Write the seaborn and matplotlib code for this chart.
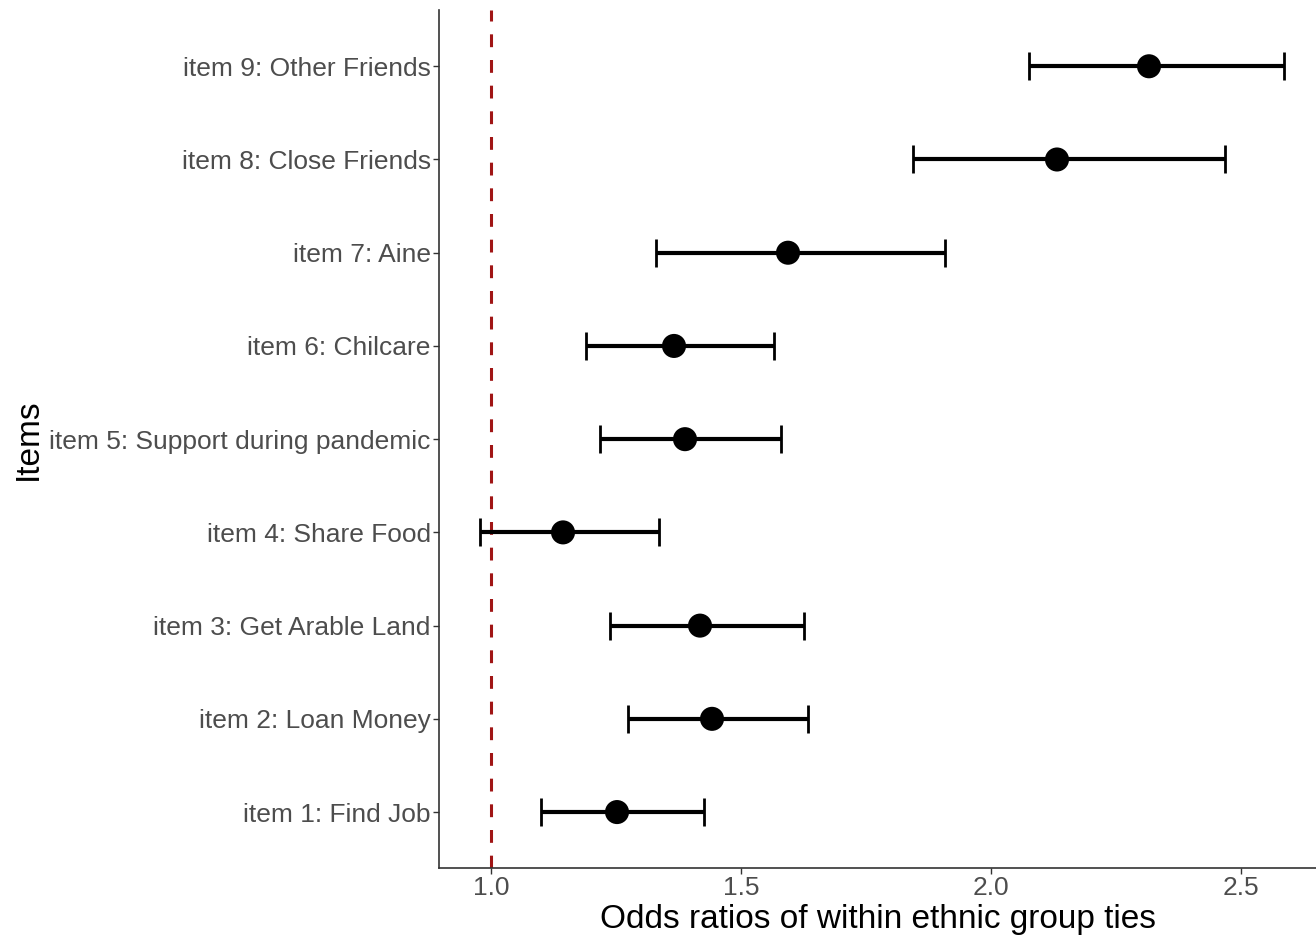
import matplotlib
matplotlib.use("Agg")
import matplotlib.pyplot as plt
import seaborn as sns
import pandas as pd
import numpy as np

items = ["item 1: Find Job", "item 2: Loan Money", "item 3: Get Arable Land",
         "item 4: Share Food", "item 5: Support during pandemic", "item 6: Chilcare",
         "item 7: Aine", "item 8: Close Friends", "item 9: Other Friends"]
odds = [1.252, 1.442, 1.418, 1.144, 1.388, 1.366, 1.594, 2.132, 2.316]
lower = [1.100, 1.274, 1.238, 0.978, 1.218, 1.190, 1.330, 1.844, 2.076]
upper = [1.426, 1.634, 1.626, 1.336, 1.580, 1.566, 1.908, 2.468, 2.586]
xticks = [1.0, 1.5, 2.0, 2.5]

df = pd.DataFrame({"item": items, "odds": odds, "lower": lower, "upper": upper})
df["pos"] = np.arange(len(df))

sns.set_style("white")
plt.rcParams['font.family'] = ['Liberation Sans', 'DejaVu Sans']

fig = plt.figure(figsize=(13.16, 9.4), dpi=100)
ax = fig.add_axes([0.3336, 0.0766, 0.6664, 0.9124])

ax.axvline(1.0, color="#A01515", linestyle=(0, (4.2, 4.2)), linewidth=2.2, zorder=1)
ax.errorbar(df["odds"], df["pos"], xerr=[df["odds"] - df["lower"], df["upper"] - df["odds"]],
            fmt="none", ecolor="black", elinewidth=3, capsize=10, capthick=2, zorder=2)
sns.scatterplot(data=df, x="odds", y="pos", color="black", s=300, edgecolor="none",
                zorder=3, ax=ax, legend=False)

ax.set_xlim(0.896, 2.65)
ax.set_ylim(-0.6, 8.6)
ax.set_xticks(xticks)
ax.set_xticklabels([f"{t:.1f}" for t in xticks])
ax.set_yticks(df["pos"])
ax.set_yticklabels(df["item"])
ax.tick_params(axis="both", labelsize=19, labelcolor="#4D4D4D", length=4, width=1,
               color="#333333", direction="out", pad=2, left=True, bottom=True)
ax.set_xlabel("Odds ratios of within ethnic group ties", fontsize=24, color="black", labelpad=3)
ax.set_ylabel("Items", fontsize=24, color="black", labelpad=4)

for s in ["top", "right"]:
    ax.spines[s].set_visible(False)
for s in ["left", "bottom"]:
    ax.spines[s].set_color("#333333")
    ax.spines[s].set_linewidth(1.2)

fig.savefig("out.png", dpi=100, facecolor="white")
